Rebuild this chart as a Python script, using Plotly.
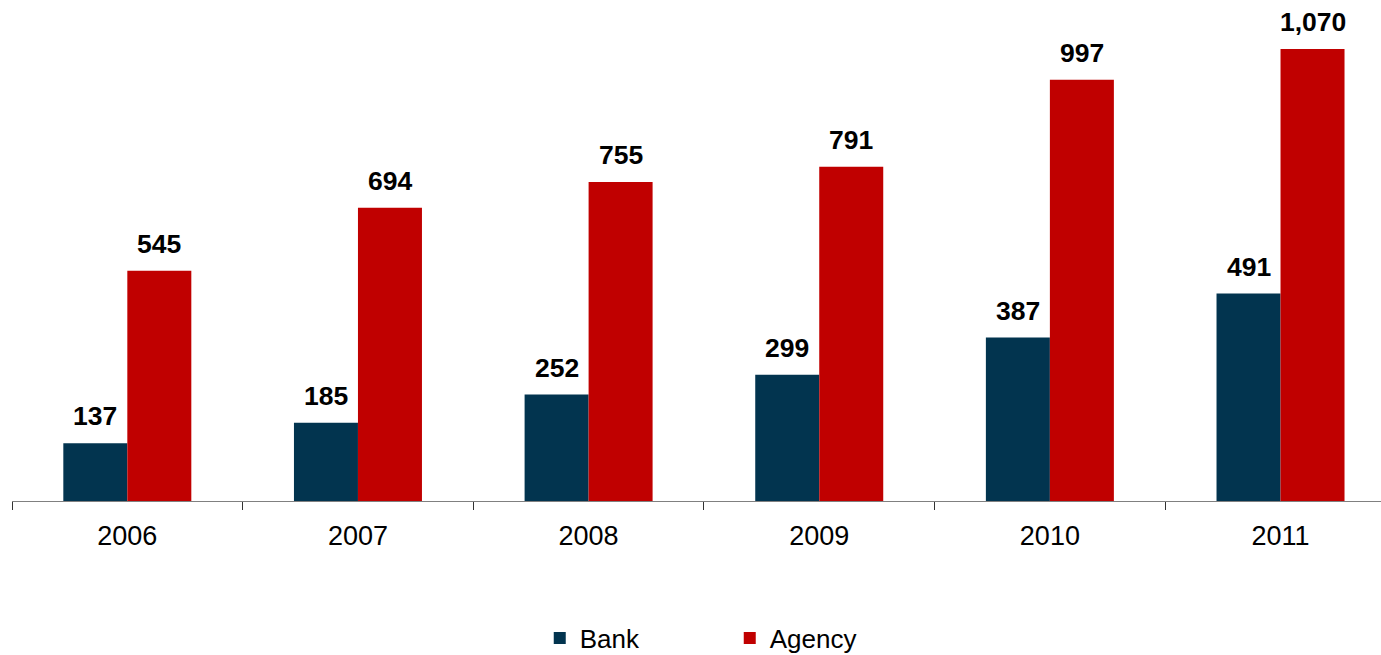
import plotly.graph_objects as go

years = ["2006", "2007", "2008", "2009", "2010", "2011"]
bank = [137, 185, 252, 299, 387, 491]
agency = [545, 694, 755, 791, 997, 1070]

BANK_COLOR = "#02344F"
AGENCY_COLOR = "#C00000"

W, H = 1381, 655
ML, MR, MT, MB = 12, 0, 0, 154
cat_px = 230.64
x_max = (W - ML - MR) / cat_px - 0.5
bar_w = 64 / cat_px

fig = go.Figure()
fig.add_trace(go.Bar(x=years, y=bank, name="Bank", marker=dict(color=BANK_COLOR, line=dict(width=0))))
fig.add_trace(go.Bar(x=years, y=agency, name="Agency", marker=dict(color=AGENCY_COLOR, line=dict(width=0))))

label_font = dict(family="Liberation Sans, Arial, sans-serif", size=26.5, color="#000000")
for i, yr in enumerate(years):
    for vals, shift in ((bank, -32), (agency, 32)):
        fig.add_annotation(x=i, y=vals[i], xref="x", yref="y", text=f"<b>{vals[i]:,}</b>",
                           showarrow=False, xanchor="center", yanchor="bottom",
                           xshift=shift, yshift=10, font=label_font)

fig.update_layout(
    width=W, height=H,
    margin=dict(l=ML, r=MR, t=MT, b=MB, autoexpand=False),
    paper_bgcolor="white", plot_bgcolor="white",
    barmode="group", bargap=1 - 2 * bar_w, bargroupgap=0,
    showlegend=True,
    legend=dict(orientation="h", x=0.3855, xanchor="left", y=-0.2735, yanchor="middle",
                font=dict(family="Liberation Sans, Arial, sans-serif", size=26, color="#000000"),
                entrywidth=145, entrywidthmode="pixels", itemwidth=30,
                bgcolor="rgba(0,0,0,0)"),
    xaxis=dict(type="category", range=[-0.5, x_max], showgrid=False, zeroline=False,
               showline=True, linecolor="#808080", linewidth=1, automargin=False,
               ticks="outside", tickson="boundaries", ticklen=8, tickcolor="#333333", tickwidth=1,
               tickfont=dict(family="Liberation Sans, Arial, sans-serif", size=27, color="#000000"),
               ticklabelstandoff=11),
    yaxis=dict(range=[0, 1186], showgrid=False, zeroline=False, showline=False,
               showticklabels=False, ticks="", automargin=False),
)

fig.write_html("out.html")
